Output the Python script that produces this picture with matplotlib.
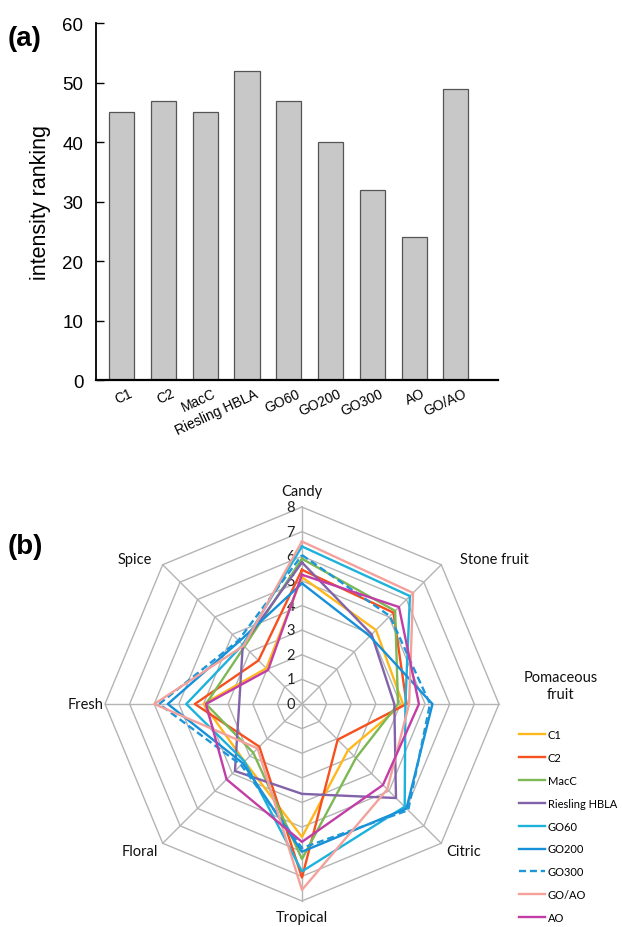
import numpy as np
import matplotlib
matplotlib.use("Agg")
import matplotlib.pyplot as plt
import matplotlib.transforms as mtransforms
from matplotlib.lines import Line2D

# ---------------- data ----------------
samples = ["C1", "C2", "MacC", "Riesling HBLA", "GO60", "GO200", "GO300", "AO", "GO/AO"]
intensity = [45, 47, 45, 52, 47, 40, 32, 24, 49]

attributes = ["Candy", "Stone fruit", "Pomaceous\nfruit", "Citric", "Tropical", "Floral", "Fresh", "Spice"]
series_names = ["C1", "C2", "MacC", "Riesling HBLA", "GO60", "GO200", "GO300", "GO/AO", "AO"]
c1 = [5.15, 4.25, 4.10, 2.65, 5.40, 3.30, 4.00, 2.05]
c2 = [5.45, 5.25, 4.25, 2.05, 7.05, 2.45, 4.35, 2.50]
macc = [5.90, 5.35, 3.90, 3.10, 6.30, 2.80, 3.90, 3.30]
riesling = [5.75, 4.00, 3.75, 5.40, 3.65, 3.85, 2.55, 3.40]
go60 = [6.40, 6.20, 4.20, 5.90, 6.80, 3.30, 4.70, 3.40]
go200 = [4.90, 3.90, 5.30, 6.00, 6.00, 3.40, 5.45, 3.60]
go300 = [6.05, 5.05, 5.20, 6.10, 5.85, 3.50, 5.80, 3.65]
goao = [6.60, 6.38, 4.35, 4.90, 7.55, 2.55, 6.00, 3.35]
ao = [5.25, 5.57, 4.75, 4.65, 5.60, 4.33, 3.90, 1.95]
series_values = [c1, c2, macc, riesling, go60, go200, go300, goao, ao]
ring_levels = [0, 1, 2, 3, 4, 5, 6, 7, 8]

colors = ["#FFB81C", "#F5501E", "#7DB855", "#8262A8", "#1CB2DC", "#1690D8", "#1E96D8", "#F4A19B", "#C23DA6"]
styles = ["-", "-", "-", "-", "-", "-", "--", "-", "-"]

# ---------------- figure ----------------
fig = plt.figure(figsize=(6.22, 9.28), dpi=100)

# ---- panel (a) ----
axa = fig.add_axes([0.154, 0.589, 0.646, 0.385])
x = np.arange(len(samples))
axa.bar(x, intensity, width=0.6, color="#c8c8c8", edgecolor="#555555", linewidth=0.9)
axa.set_xlim(-0.62, 9.0)
axa.set_ylim(0, 60)
axa.set_yticks(range(0, 61, 10))
for s in ["top", "right"]:
    axa.spines[s].set_visible(False)
axa.spines["left"].set_linewidth(1.3)
axa.spines["bottom"].set_linewidth(1.6)
axa.tick_params(axis="y", direction="in", length=6, width=1.0, labelsize=13.5, pad=9)
axa.tick_params(axis="x", length=0, pad=4)
axa.set_xticks(x)
axa.set_xticklabels(samples, rotation=25, ha="right", rotation_mode="anchor",
                    fontsize=10, family="Liberation Sans")
shift = mtransforms.ScaledTranslation(7 / 100, 0, fig.dpi_scale_trans)
for lab in axa.get_xticklabels():
    lab.set_transform(lab.get_transform() + shift)
for lab in axa.get_yticklabels():
    lab.set_family("Liberation Sans")
axa.set_ylabel("intensity ranking", fontsize=15.5, family="Liberation Sans", labelpad=8)
fig.text(0.013, 0.972, "(a)", fontsize=20, fontweight="bold", family="Liberation Sans",
         ha="left", va="top")

# ---- panel (b) radar ----
axb = fig.add_axes([0.153, 0.0174, 0.665, 0.4458])
axb.set_xlim(-8.4, 8.4)
axb.set_ylim(-8.4, 8.4)
axb.set_aspect("equal")
axb.axis("off")

n = len(attributes)
theta = np.arange(n) * 2 * np.pi / n
grid_col = "#b4b4b4"
for lv in ring_levels[1:]:
    gx = lv * np.sin(np.append(theta, theta[0]))
    gy = lv * np.cos(np.append(theta, theta[0]))
    axb.plot(gx, gy, color=grid_col, lw=1.0, zorder=1)
rmax = ring_levels[-1]
for t in theta:
    axb.plot([0, rmax * np.sin(t)], [0, rmax * np.cos(t)], color=grid_col, lw=1.0, zorder=1)

for lv in ring_levels:
    axb.text(-0.45, lv, str(lv), ha="center", va="center", fontsize=10.5,
             family="Lato", color="#222222", zorder=2)

for name, vals, col, ls in zip(series_names, series_values, colors, styles):
    v = np.append(vals, vals[0])
    t = np.append(theta, theta[0])
    axb.plot(v * np.sin(t), v * np.cos(t), color=col, lw=1.7, ls=ls,
             dashes=(3, 1.6) if ls == "--" else (None, None), zorder=3)

label_pos = [(0, 8.66), (7.8, 5.9), (10.5, 0.75), (6.55, -5.98),
             (0, -8.66), (-6.6, -5.98), (-8.8, 0), (-6.8, 5.9)]
for lab, (lx, ly) in zip(attributes, label_pos):
    axb.text(lx, ly, lab, ha="center", va="center", fontsize=10.5, family="Lato",
             color="#111111", linespacing=1.3, clip_on=False)

fig.text(0.013, 0.425, "(b)", fontsize=20, fontweight="bold", family="Liberation Sans",
         ha="left", va="top")

handles = [Line2D([0], [0], color=c, lw=1.7, ls=ls, dashes=(3, 1.6) if ls == "--" else (None, None))
           for c, ls in zip(colors, styles)]
fig.legend(handles, series_names, loc="upper left", bbox_to_anchor=(0.834, 0.2134),
           frameon=False, handlelength=2.4, handletextpad=0.2,
           labelspacing=1.07, borderaxespad=0, borderpad=0, prop={"family": "Lato", "size": 8})

fig.savefig("out.png", dpi=100)
